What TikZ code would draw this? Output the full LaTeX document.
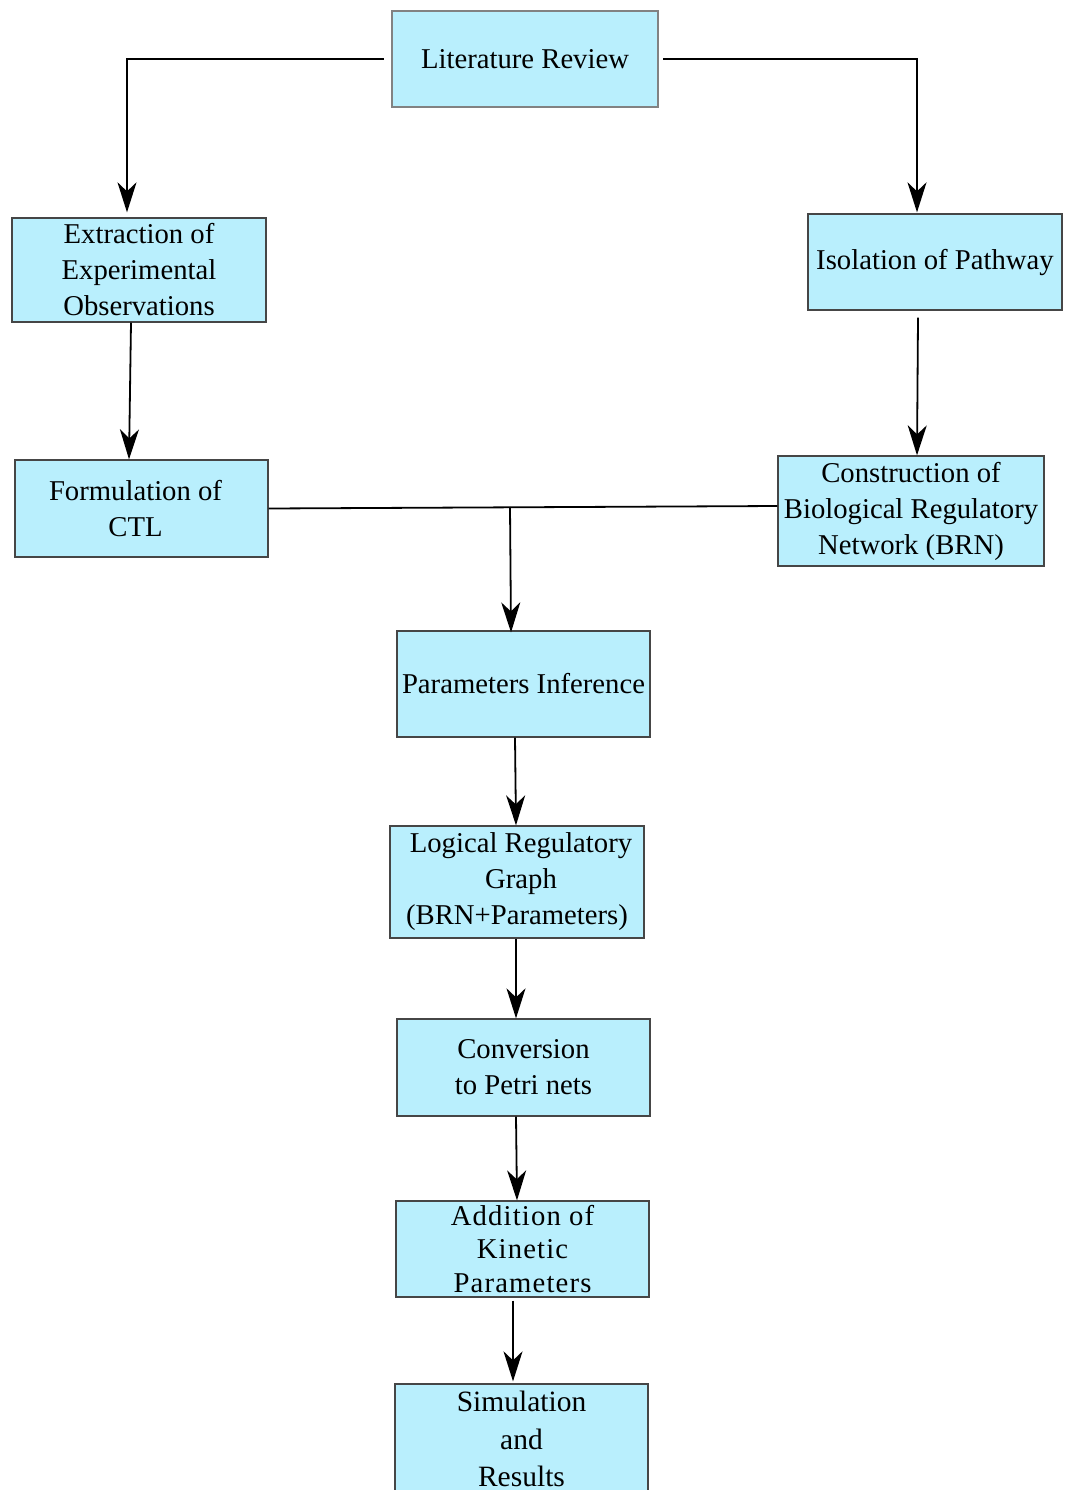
\documentclass[tikz,border=0pt]{standalone}
\usepackage{fontspec}
\setmainfont{LiberationSerif}[Extension=.ttf, UprightFont=*-Regular, BoldFont=*-Bold, ItalicFont=*-Italic]
\usetikzlibrary{arrows.meta}
\definecolor{boxfill}{RGB}{185,239,253}
\definecolor{boxline}{RGB}{70,70,70}
\definecolor{litline}{RGB}{130,130,130}
\tikzset{
  stepbox/.style={draw=boxline, line width=1.3pt, fill=boxfill, inner sep=0pt, align=center,
    font=\rmfamily\fontsize{28.7}{36}\selectfont},
  conn/.style={draw=black, line width=1.8pt, -{Stealth[length=30pt,width=19pt,inset=9pt]}},
  plainconn/.style={draw=black, line width=1.8pt}
}
\begin{document}
\begin{tikzpicture}[x=1pt,y=-1pt]
\useasboundingbox (0,0) rectangle (1071,1490);
\clip (0,0) rectangle (1071,1490);
% nodes
\node[stepbox, draw=litline, line width=2.6pt, minimum width=266pt, minimum height=96pt] (lit) at (525,59) {Literature Review};
\node[stepbox, minimum width=254pt, minimum height=104pt] (ext) at (139,270) {Extraction of\\Experimental\\Observations};
\node[stepbox, minimum width=254pt, minimum height=96pt] (iso) at (935,262) {Isolation of Pathway};
\node[stepbox, minimum width=253pt, minimum height=97pt] (form) at (141.5,508.5) {\hspace*{-12pt}Formulation of\\\hspace*{-12pt}CTL};
\node[stepbox, minimum width=266pt, minimum height=110pt] (brn) at (911,511) {Construction of\\Biological Regulatory\\Network (BRN)};
\node[stepbox, minimum width=253pt, minimum height=106pt] (par) at (523.5,684) {Parameters Inference};
\node[stepbox, minimum width=254pt, minimum height=112pt] (lrg) at (517,882) {\hspace*{8pt}Logical Regulatory\\\hspace*{8pt}Graph\\(BRN+Parameters)};
\node[stepbox, minimum width=253pt, minimum height=97pt] (pet) at (523.5,1067.5) {Conversion\\to Petri nets};
\node[stepbox, minimum width=253pt, minimum height=96pt, font=\rmfamily\fontsize{28.7}{33.5}\selectfont\addfontfeature{LetterSpace=4}] (kin) at (522.5,1249) {Addition of\\Kinetic\\Parameters};
\node[stepbox, minimum width=253pt, minimum height=110pt, font=\rmfamily\fontsize{29.5}{37.5}\selectfont] (sim) at (521.5,1439) {Simulation\\and\\Results};
\coordinate (j) at (510,507);
% connectors
\draw[conn, shorten >=5pt] ([xshift=-7pt]lit.west) -| ([xshift=-12pt]ext.north);
\draw[conn, shorten >=1pt] ([xshift=4pt]lit.east) -| ([xshift=-18pt]iso.north);
\draw[conn] ([xshift=-8pt]ext.south) -- ([xshift=-12.5pt]form.north);
\draw[conn] ([xshift=-17pt, yshift=-7pt]iso.south) -- ([xshift=6pt]brn.north);
\draw[plainconn] (form.east) -- ([yshift=5pt]brn.west);
\draw[conn, shorten >=-2pt] (j) -- ([xshift=-12.5pt]par.north);
\draw[conn] ([xshift=-8.5pt]par.south) -- ([xshift=-1pt]lrg.north);
\draw[conn] ([xshift=-1pt]lrg.south) -- ([xshift=-7.5pt]pet.north);
\draw[conn] ([xshift=-7.5pt]pet.south) -- ([xshift=-5.5pt]kin.north);
\draw[conn] ([xshift=-9.5pt, yshift=-3pt]kin.south) -- ([xshift=-8.5pt, yshift=2pt]sim.north);
\end{tikzpicture}
\end{document}
